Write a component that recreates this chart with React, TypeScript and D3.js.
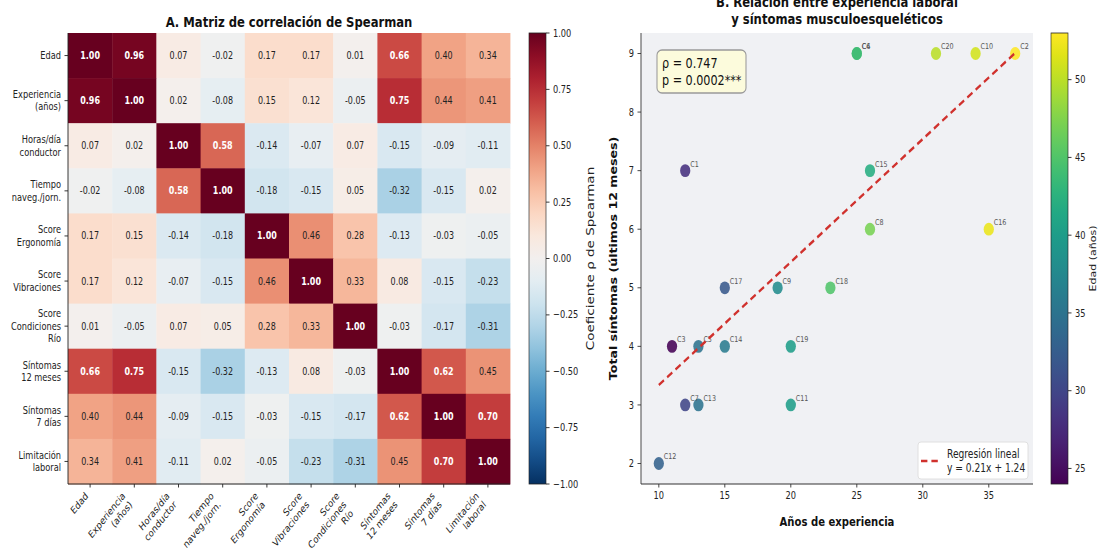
import React from "react";
import * as d3 from "d3";

// the reference figure is squeezed horizontally, so draw in wider units and scale x back
const SX = 0.8;
const X = (px: number) => px / SX;
const FONT = "DejaVu Sans, sans-serif";

const variables = [
  "Edad",
  "Experiencia\n(años)",
  "Horas/día\nconductor",
  "Tiempo\nnaveg./jorn.",
  "Score\nErgonomía",
  "Score\nVibraciones",
  "Score\nCondiciones\nRío",
  "Síntomas\n12 meses",
  "Síntomas\n7 días",
  "Limitación\nlaboral",
];

const corrRows = [
  [1.0, 0.96, 0.07, -0.02, 0.17, 0.17, 0.01, 0.66, 0.4, 0.34],
  [0.96, 1.0, 0.02, -0.08, 0.15, 0.12, -0.05, 0.75, 0.44, 0.41],
  [0.07, 0.02, 1.0, 0.58, -0.14, -0.07, 0.07, -0.15, -0.09, -0.11],
  [-0.02, -0.08, 0.58, 1.0, -0.18, -0.15, 0.05, -0.32, -0.15, 0.02],
  [0.17, 0.15, -0.14, -0.18, 1.0, 0.46, 0.28, -0.13, -0.03, -0.05],
  [0.17, 0.12, -0.07, -0.15, 0.46, 1.0, 0.33, 0.08, -0.15, -0.23],
  [0.01, -0.05, 0.07, 0.05, 0.28, 0.33, 1.0, -0.03, -0.17, -0.31],
  [0.66, 0.75, -0.15, -0.32, -0.13, 0.08, -0.03, 1.0, 0.62, 0.45],
  [0.4, 0.44, -0.09, -0.15, -0.03, -0.15, -0.17, 0.62, 1.0, 0.7],
  [0.34, 0.41, -0.11, 0.02, -0.05, -0.23, -0.31, 0.45, 0.7, 1.0],
];

const corrTicks = [1, 0.75, 0.5, 0.25, 0, -0.25, -0.5, -0.75, -1];

const codes = ["C1", "C2", "C3", "C4", "C5", "C6", "C7", "C8", "C9", "C10",
  "C11", "C12", "C13", "C14", "C15", "C16", "C17", "C18", "C19", "C20"];
const experience = [12, 37, 11, 25, 13, 25, 12, 26, 19, 34, 20, 10, 13, 15, 26, 35, 15, 23, 20, 31];
const symptoms = [7, 9, 4, 9, 4, 9, 3, 6, 5, 9, 3, 2, 3, 4, 7, 6, 5, 5, 4, 9];
const ages = [28, 53, 24, 44, 35, 44, 30, 47, 38, 51, 40, 33, 35, 36, 42, 52, 32, 45, 40, 50];

const expTicks = [10, 15, 20, 25, 30, 35];
const sympTicks = [2, 3, 4, 5, 6, 7, 8, 9];
const ageTicks = [25, 30, 35, 40, 45, 50];
const ageRange = [24, 53];

const statLines = ["ρ = 0.747", "p = 0.0002***"];
const regSlope = 0.21;
const regIntercept = 1.24;
const legendLines = ["Regresión lineal", "y = 0.21x + 1.24"];

// cells use a plain hyphen, colorbar ticks the typographic minus
const fmtCell = (v: number) => v.toFixed(2);
const fmtMinus = (v: number) => v.toFixed(2).replace("-", "\u2212");

function Heatmap() {
  const left = X(68), right = X(510), top = 33, bottom = 484;
  const idx = d3.range(variables.length);
  const xb = d3.scaleBand<number>().domain(idx).range([left, right]);
  const yb = d3.scaleBand<number>().domain(idx).range([top, bottom]);
  const color = (v: number) => d3.interpolateRdBu((1 - v) / 2);

  const fs = 10.3, lh = 12.4;
  const asc = 0.76 * fs, desc = 0.24 * fs;
  const y0 = bottom + 7;

  // colorbar
  const cbL = X(529), cbR = X(546);
  const cy = d3.scaleLinear().domain([-1, 1]).range([bottom, top]);
  const stops = d3.range(0, 1.0001, 0.05);

  return (
    <g>
      <text x={(left + right) / 2} y={27} textAnchor="middle" fontSize={14.5} fontWeight="bold" fill="#111">
        A. Matriz de correlación de Spearman
      </text>
      {corrRows.map((row, r) =>
        row.map((v, c) => {
          const strong = Math.abs(v) > 0.5;
          return (
            <g key={`${r}-${c}`}>
              <rect x={xb(c)} y={yb(r)} width={xb.bandwidth() + 0.5} height={yb.bandwidth() + 0.5} fill={color(v)} />
              <text x={xb(c)! + xb.bandwidth() / 2} y={yb(r)! + yb.bandwidth() / 2} dy="0.35em"
                textAnchor="middle" fontSize={10} fontWeight={strong ? "bold" : "normal"}
                fill={strong ? "#fff" : "#222"}>
                {fmtCell(v)}
              </text>
            </g>
          );
        })
      )}
      <line x1={left} x2={left} y1={top} y2={bottom} stroke="#222" strokeWidth={1} />
      <line x1={left} x2={right} y1={bottom} y2={bottom} stroke="#222" strokeWidth={1.2} />
      {variables.map((name, i) => {
        const lines = name.split("\n");
        const cy0 = yb(i)! + yb.bandwidth() / 2 - ((lines.length - 1) * lh) / 2;
        return (
          <g key={`yl${i}`}>
            <line x1={left - X(3.5)} x2={left} y1={yb(i)! + yb.bandwidth() / 2} y2={yb(i)! + yb.bandwidth() / 2} stroke="#222" />
            <text x={left - X(7)} y={cy0} dy="0.35em" textAnchor="end" fontSize={fs} fill="#222">
              {lines.map((l, k) => (
                <tspan key={k} x={left - X(7)} dy={k === 0 ? "0.35em" : lh}>{l}</tspan>
              ))}
            </text>
          </g>
        );
      })}
      {variables.map((name, i) => {
        const lines = name.split("\n");
        const tx = xb(i)! + xb.bandwidth() / 2;
        const ox = tx - ((lines.length - 1) * lh + desc) / Math.SQRT2;
        const oy = y0 + asc / Math.SQRT2;
        return (
          <g key={`xl${i}`}>
            <line x1={tx} x2={tx} y1={bottom} y2={bottom + 3.5} stroke="#222" />
            <text transform={`translate(${ox},${oy}) rotate(-45)`} textAnchor="end" fontSize={fs} fill="#222">
              {lines.map((l, k) => (
                <tspan key={k} x={0} y={k * lh}>{l}</tspan>
              ))}
            </text>
          </g>
        );
      })}
      <defs>
        <linearGradient id="rdbu" x1="0" y1="1" x2="0" y2="0">
          {stops.map((t) => (
            <stop key={t} offset={t} stopColor={d3.interpolateRdBu(1 - t)} />
          ))}
        </linearGradient>
      </defs>
      <rect x={cbL} y={top} width={cbR - cbL} height={bottom - top} fill="url(#rdbu)" stroke="#222" strokeWidth={0.8} />
      {corrTicks.map((t) => (
        <g key={`ct${t}`}>
          <line x1={cbR} x2={cbR + X(3.5)} y1={cy(t)} y2={cy(t)} stroke="#222" />
          <text x={cbR + X(7)} y={cy(t)} dy="0.35em" fontSize={10.3} fill="#222">{fmtMinus(t)}</text>
        </g>
      ))}
      <text transform={`translate(${X(590)},${(top + bottom) / 2}) rotate(-90)`} dy="0.35em" textAnchor="middle"
        fontSize={13.5} fill="#222">
        Coeficiente ρ de Spearman
      </text>
    </g>
  );
}

function Scatter() {
  const left = X(641), right = X(1033), top = 33, bottom = 484;
  const [xmin, xmax] = d3.extent(experience) as [number, number];
  const [ymin, ymax] = d3.extent(symptoms) as [number, number];
  const mx = (xmax - xmin) * 0.05, my = (ymax - ymin) * 0.05;
  const x = d3.scaleLinear().domain([xmin - mx, xmax + mx]).range([left, right]);
  const y = d3.scaleLinear().domain([ymin - my, ymax + my]).range([bottom, top]);
  const col = d3.scaleSequential(d3.interpolateViridis).domain(ageRange);

  const reg = d3.line<number>().x((d) => x(d)).y((d) => y(regSlope * d + regIntercept));

  const cbL = X(1051), cbR = X(1068);
  const cy = d3.scaleLinear().domain(ageRange).range([bottom, top]);
  const stops = d3.range(0, 1.0001, 0.05);
  const cx = (left + right) / 2;

  return (
    <g>
      <text x={cx} y={7} textAnchor="middle" fontSize={14.5} fontWeight="bold" fill="#111">
        B. Relación entre experiencia laboral
      </text>
      <text x={cx} y={24} textAnchor="middle" fontSize={14.5} fontWeight="bold" fill="#111">
        y síntomas musculoesqueléticos
      </text>
      <rect x={left} y={top} width={right - left} height={bottom - top} fill="#f0f1f4" />
      {codes.map((c, i) => (
        <circle key={c} cx={x(experience[i])} cy={y(symptoms[i])} r={6.4} fill={col(ages[i])} opacity={0.88} />
      ))}
      {codes.map((c, i) => (
        <text key={`lb${c}`} x={x(experience[i]) + X(5)} y={y(symptoms[i]) - 4} fontSize={8} fill="#555">{c}</text>
      ))}
      <path d={reg([xmin, xmax]) ?? ""} fill="none" stroke="#d0312d" strokeWidth={2.6} strokeDasharray="8,5" />
      <line x1={left} x2={left} y1={top} y2={bottom} stroke="#333" strokeWidth={1.1} />
      <line x1={left} x2={right} y1={bottom} y2={bottom} stroke="#333" strokeWidth={1.1} />
      {expTicks.map((t) => (
        <g key={`xt${t}`}>
          <line x1={x(t)} x2={x(t)} y1={bottom} y2={bottom + 3.5} stroke="#333" />
          <text x={x(t)} y={bottom + 15} textAnchor="middle" fontSize={10.3} fill="#222">{t}</text>
        </g>
      ))}
      {sympTicks.map((t) => (
        <g key={`yt${t}`}>
          <line x1={left - X(3.5)} x2={left} y1={y(t)} y2={y(t)} stroke="#333" />
          <text x={left - X(7)} y={y(t)} dy="0.35em" textAnchor="end" fontSize={10.3} fill="#222">{t}</text>
        </g>
      ))}
      <text x={cx} y={526} textAnchor="middle" fontSize={12.6} fontWeight="bold" fill="#111">Años de experiencia</text>
      <text transform={`translate(${X(613)},${(top + bottom) / 2}) rotate(-90)`} dy="0.35em" textAnchor="middle"
        fontSize={12.6} fontWeight="bold" fill="#111">
        Total síntomas (últimos 12 meses)
      </text>

      <rect x={X(657)} y={50} width={X(89)} height={43} rx={X(5)} ry={5} fill="#fcfbdc" stroke="#999" strokeWidth={1.3} />
      {statLines.map((l, k) => (
        <text key={l} x={X(662)} y={68 + k * 17} fontSize={14} fill="#111">{l}</text>
      ))}

      <rect x={X(918)} y={442} width={X(110)} height={37} rx={X(3)} ry={3} fill="#fff" stroke="#ddd" strokeWidth={1} />
      <line x1={X(921)} x2={X(940)} y1={461} y2={461} stroke="#d0312d" strokeWidth={2.6} strokeDasharray="8,5" />
      {legendLines.map((l, k) => (
        <text key={l} x={X(947)} y={458 + k * 14.5} fontSize={11.4} fill="#222">{l}</text>
      ))}

      <defs>
        <linearGradient id="viridis" x1="0" y1="1" x2="0" y2="0">
          {stops.map((t) => (
            <stop key={t} offset={t} stopColor={d3.interpolateViridis(t)} />
          ))}
        </linearGradient>
      </defs>
      <rect x={cbL} y={top} width={cbR - cbL} height={bottom - top} fill="url(#viridis)" stroke="#222" strokeWidth={0.8} />
      {ageTicks.map((t) => (
        <g key={`at${t}`}>
          <line x1={cbR} x2={cbR + X(3.5)} y1={cy(t)} y2={cy(t)} stroke="#222" />
          <text x={cbR + X(7)} y={cy(t)} dy="0.35em" fontSize={10.3} fill="#222">{t}</text>
        </g>
      ))}
      <text transform={`translate(${X(1093)},${(top + bottom) / 2}) rotate(-90)`} dy="0.35em" textAnchor="middle"
        fontSize={11} fill="#222">
        Edad (años)
      </text>
    </g>
  );
}

export default function App() {
  return (
    <svg width={1101} height={550} style={{ position: "absolute", left: 0, top: 0, background: "#fff" }}
      fontFamily={FONT}>
      <g transform={`scale(${SX},1)`}>
        <Heatmap />
        <Scatter />
      </g>
    </svg>
  );
}
